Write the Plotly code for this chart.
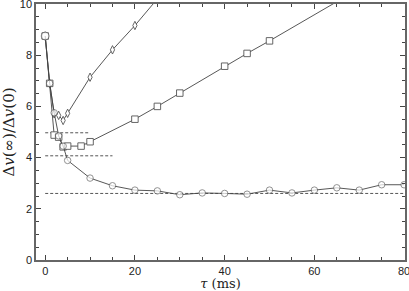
import plotly.graph_objects as go

# Data
tau_circ = [0, 1, 2, 3, 4, 5, 10, 15, 20, 25, 30, 35, 40, 45, 50, 55, 60, 65, 70, 75, 80]
val_circ = [8.75, 6.9, 5.75, 4.85, 4.45, 3.89, 3.2, 2.9, 2.73, 2.70, 2.55, 2.62, 2.60, 2.57,
            2.73, 2.62, 2.73, 2.82, 2.73, 2.94, 2.94]

tau_sq = [0, 1, 2, 3, 4, 5, 8, 10, 20, 25, 30, 40, 45, 50, 70]
val_sq = [8.75, 6.9, 4.88, 4.8, 4.42, 4.45, 4.45, 4.62, 5.5, 6.0, 6.52, 7.57, 8.07, 8.56, 10.6]

tau_dia = [0, 1, 2, 3, 4, 5, 10, 15, 20, 25]
val_dia = [8.75, 6.9, 5.71, 5.65, 5.45, 5.73, 7.14, 8.21, 9.16, 10.2]

ref_levels = [2.6, 4.07, 4.97]
ref_ends = [80, 15, 10]

line_col = "#444444"
fig = go.Figure()

for lvl, end in zip(ref_levels, ref_ends):
    fig.add_trace(go.Scatter(x=[0, end], y=[lvl, lvl], mode="lines",
                             line=dict(color="#555555", width=1, dash="3px,2px"),
                             showlegend=False, hoverinfo="skip"))

fig.add_trace(go.Scatter(x=tau_dia, y=val_dia, mode="lines+markers",
                         line=dict(color=line_col, width=0.9),
                         marker=dict(symbol="diamond-tall", size=6, color="white",
                                     line=dict(color="#555555", width=0.9)),
                         showlegend=False))
fig.add_trace(go.Scatter(x=tau_sq, y=val_sq, mode="lines+markers",
                         line=dict(color=line_col, width=0.9),
                         marker=dict(symbol="square", size=6.5, color="white",
                                     line=dict(color="#555555", width=0.9)),
                         showlegend=False))
circ_sizes = [8] + [6.5] * (len(tau_circ) - 1)
fig.add_trace(go.Scatter(x=tau_circ, y=val_circ, mode="lines+markers",
                         line=dict(color=line_col, width=0.9),
                         marker=dict(symbol="circle", size=circ_sizes, color="white",
                                     line=dict(color="#555555", width=0.9)),
                         showlegend=False))

axis_common = dict(showline=True, linecolor="#666666", linewidth=1.5, mirror="ticks",
                   ticks="inside", tickcolor="#444444", ticklen=5, tickwidth=1,
                   showgrid=False, zeroline=False, automargin=False,
                   ticklabeloverflow="allow",
                   tickfont=dict(family="Liberation Sans, Arial, sans-serif", size=11, color="#222222"))

fig.update_xaxes(range=[-2.05, 80.2], tickvals=[0, 20, 40, 60, 80],
                 minor=dict(dtick=5, tick0=0, ticks="inside", ticklen=3, tickcolor="#444444"),
                 title=dict(text="<i>τ</i> (ms)",
                            font=dict(family="DejaVu Serif, serif", size=13, color="#222222")),
                 **axis_common)
fig.update_yaxes(range=[0, 10], tickvals=[0, 2, 4, 6, 8, 10],
                 minor=dict(dtick=0.5, tick0=0, ticks="inside", ticklen=3, tickcolor="#444444"),
                 title=dict(text="Δ<i>v</i>(∞)/Δ<i>v</i>(0)",
                            font=dict(family="DejaVu Serif, serif", size=15, color="#222222")),
                 **axis_common)

fig.update_layout(width=409, height=291, margin=dict(l=36, r=4, t=4, b=31),
                  plot_bgcolor="white", paper_bgcolor="white")

fig.write_html("out.html", config={"displayModeBar": False},
               post_script="document.body.style.margin='0';document.body.style.overflow='hidden';")
